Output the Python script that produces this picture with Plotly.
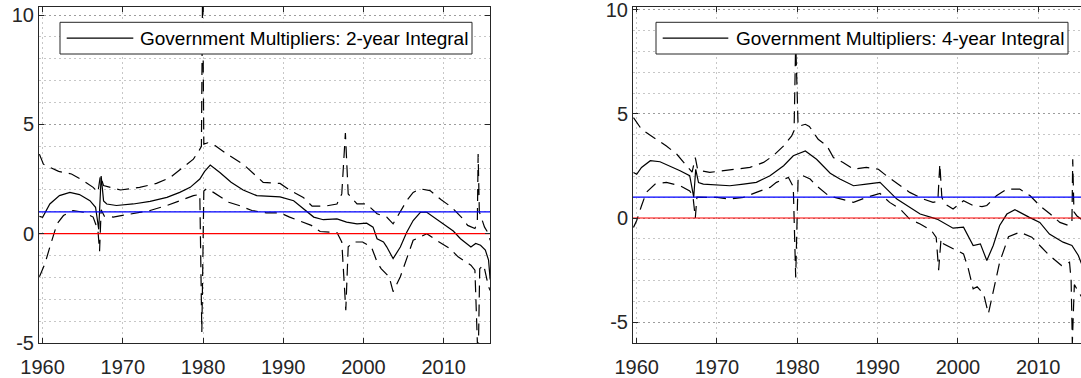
import plotly.graph_objects as go

# ---------------- data ----------------
# Left panel: Government Multipliers, 2-year integral
yrs_mid2 = [1959.6, 1960.0, 1960.9, 1962.1, 1963.4, 1964.6, 1965.9, 1966.6, 1967.0, 1967.3, 1967.6,
            1968.0, 1969.2, 1971.3, 1973.4, 1975.5, 1977.1, 1978.4, 1979.6, 1980.2, 1980.9, 1982.1,
            1983.5, 1985.0, 1986.7, 1989.6, 1991.3, 1992.5, 1993.8, 1995.0, 1996.7, 1997.9, 1999.2,
            2000.4, 2001.2, 2001.7, 2002.5, 2002.9, 2003.7, 2004.6, 2005.4, 2006.2, 2007.1, 2007.9,
            2009.6, 2011.2, 2012.1, 2013.4, 2014.0, 2014.6, 2015.2, 2015.6, 2015.8]
mid2 = [0.79, 0.75, 1.36, 1.74, 1.89, 1.79, 1.51, 1.21, 0.2, 2.64, 1.5,
        1.36, 1.29, 1.36, 1.48, 1.66, 1.89, 2.12, 2.5, 2.85, 3.14, 2.8,
        2.35, 2.0, 1.74, 1.68, 1.51, 1.14, 0.76, 0.64, 0.68, 0.53, 0.45,
        0.48, 0.3, -0.23, -0.38, -0.6, -1.14, -0.61, 0.07, 0.6, 0.98, 0.98,
        0.55, 0.12, -0.23, -0.61, -0.45, -0.53, -0.75, -1.21, -2.1]

yrs_up2 = [1959.6, 1960.1, 1962.0, 1963.6, 1965.1, 1966.3, 1966.9, 1967.2, 1967.6, 1969.7, 1972.1,
           1974.2, 1975.9, 1977.5, 1978.8, 1979.5, 1979.8, 1979.95, 1980.1, 1980.6, 1981.3, 1983.0,
           1985.0, 1987.5, 1989.6, 1990.9, 1992.5, 1993.6, 1995.2, 1996.7, 1997.3, 1997.75, 1998.1,
           1999.2, 2000.4, 2001.7, 2002.9, 2003.7, 2004.6, 2005.4, 2006.2, 2007.1, 2008.3, 2009.7,
           2011.0, 2012.2, 2013.0, 2013.9, 2014.2, 2014.3, 2014.45, 2015.1, 2015.6, 2015.8]
up2 = [3.64, 3.18, 2.85, 2.73, 2.42, 2.12, 1.9, 2.65, 2.2, 2.0, 2.12,
       2.3, 2.57, 3.03, 3.41, 3.8, 4.0, 11.5, 4.1, 4.16, 4.09, 3.64,
       3.18, 2.35, 2.3, 1.97, 1.66, 1.26, 1.26, 1.36, 1.82, 4.6, 1.82,
       1.36, 1.36, 0.91, 0.76, 0.45, 0.98, 1.51, 1.89, 2.05, 1.97, 1.55,
       1.21, 0.76, 0.38, 0.24, 0.5, 3.64, 1.0, 0.3, 0.0, -0.3]

yrs_lo2 = [1959.6, 1960.3, 1960.9, 1961.8, 1962.6, 1963.8, 1965.1, 1966.3, 1966.9, 1967.1, 1967.3,
           1967.7, 1968.8, 1971.3, 1973.4, 1975.5, 1977.1, 1978.8, 1979.6, 1979.85, 1980.1, 1980.4,
           1981.3, 1983.2, 1984.5, 1986.1, 1987.9, 1989.6, 1990.8, 1993.5, 1994.6, 1996.7, 1997.3,
           1997.8, 1998.1, 1998.8, 1999.9, 2001.0, 2001.7, 2002.2, 2003.2, 2003.7, 2004.6, 2005.4,
           2006.2, 2007.9, 2009.1, 2010.8, 2011.8, 2013.4, 2013.9, 2014.3, 2014.5, 2015.0, 2015.6,
           2015.8]
lo2 = [-1.97, -1.36, -0.61, 0.45, 0.83, 1.06, 0.98, 0.76, 0.15, -0.8, 1.1,
       0.8, 0.76, 0.91, 1.06, 1.29, 1.51, 1.74, 1.8, -4.5, 1.95, 2.05,
       1.89, 1.44, 1.29, 1.06, 0.95, 0.95, 0.76, 0.38, 0.1, 0.05, -0.38,
       -3.5, -0.6, -0.38, -0.38, -0.61, -1.29, -1.6, -1.97, -2.65, -1.97, -1.14,
       -0.3, 0.0, -0.3, -0.68, -1.06, -1.44, -1.67, -6.0, -1.6, -1.44, -2.43,
       -2.6]

# Right panel: Government Multipliers, 4-year integral
yrs_mid4 = [1959.6, 1960.0, 1960.6, 1961.7, 1962.9, 1964.1, 1965.4, 1966.6, 1967.1, 1967.35, 1967.7,
            1968.3, 1970.0, 1971.6, 1973.3, 1974.9, 1976.6, 1978.3, 1979.5, 1981.0, 1982.4, 1984.1,
            1985.3, 1987.0, 1988.6, 1990.3, 1992.4, 1995.3, 1997.4, 1998.6, 1999.4, 2000.7, 2001.9,
            2002.8, 2003.6, 2004.4, 2005.2, 2006.1, 2007.1, 2008.9, 2010.2, 2011.4, 2013.1, 2014.2,
            2015.0, 2015.5]
mid4 = [2.19, 2.1, 2.43, 2.75, 2.7, 2.51, 2.27, 2.03, 1.0, 2.34, 1.7,
        1.63, 1.58, 1.55, 1.63, 1.71, 2.03, 2.51, 2.99, 3.22, 2.82, 2.15,
        1.87, 1.55, 1.63, 1.71, 0.91, 0.19, -0.05, -0.29, -0.49, -0.44, -1.32,
        -1.24, -2.04, -1.32, -0.36, 0.19, 0.4, 0.03, -0.21, -0.77, -1.16, -1.32,
        -1.8, -2.3]

yrs_up4 = [1959.6, 1960.6, 1962.1, 1963.7, 1965.0, 1966.2, 1966.9, 1967.3, 1967.6, 1969.1, 1970.8,
           1972.5, 1974.1, 1975.8, 1977.0, 1978.3, 1979.3, 1979.6, 1979.8, 1980.1, 1980.3, 1981.0,
           1981.5, 1982.6, 1983.7, 1984.5, 1985.7, 1987.0, 1988.6, 1990.1, 1991.1, 1992.6, 1994.0,
           1995.7, 1996.9, 1997.5, 1997.75, 1998.0, 1998.3, 1999.4, 2000.7, 2001.9, 2003.0, 2003.6,
           2004.8, 2006.1, 2007.7, 2009.0, 2010.2, 2011.5, 2012.7, 2013.8, 2014.2, 2014.3, 2014.45,
           2014.8, 2015.5]
up4 = [4.82, 4.26, 3.86, 3.46, 3.06, 2.51, 2.2, 2.9, 2.3, 2.19, 2.27,
       2.34, 2.43, 2.67, 2.99, 3.46, 3.94, 4.2, 8.5, 4.4, 4.42, 4.5,
       4.4, 3.78, 3.46, 2.9, 2.67, 2.34, 2.43, 2.34, 2.03, 1.63, 1.23,
       0.91, 0.75, 0.8, 2.6, 1.0, 0.7, 0.43, 0.83, 0.6, 0.55, 0.6,
       1.07, 1.39, 1.39, 1.07, 0.59, 0.19, -0.21, -0.36, -0.2, 2.82, 0.3,
       0.11, -0.1]

yrs_lo4 = [1959.6, 1960.0, 1960.6, 1961.2, 1962.3, 1963.7, 1965.4, 1966.6, 1967.0, 1967.3, 1967.5,
           1968.1, 1970.0, 1971.6, 1973.3, 1974.9, 1976.6, 1977.4, 1978.9, 1979.5, 1979.8, 1980.1,
           1980.7, 1981.6, 1982.4, 1983.9, 1985.3, 1987.0, 1988.6, 1990.3, 1991.5, 1992.8, 1994.0,
           1995.3, 1996.7, 1997.3, 1997.6, 1997.9, 1998.2, 1999.4, 2000.7, 2001.3, 2001.9, 2002.4,
           2003.2, 2003.8, 2004.4, 2005.2, 2006.3, 2007.7, 2009.2, 2010.4, 2011.4, 2012.9, 2013.9,
           2014.1, 2014.25, 2014.5, 2015.5]
lo4 = [-0.45, -0.12, 0.59, 1.23, 1.63, 1.71, 1.55, 1.3, 1.07, 0.0, 1.0,
       0.99, 0.99, 0.91, 0.99, 1.23, 1.47, 1.71, 1.95, 1.5, -2.85, 1.9,
       2.03, 1.87, 1.55, 1.07, 0.91, 0.75, 0.99, 1.18, 0.75, 0.43, -0.05,
       -0.29, -0.6, -0.93, -2.5, -1.0, -1.24, -1.48, -1.72, -2.44, -3.4, -3.3,
       -3.64, -4.59, -3.56, -2.12, -0.9, -0.68, -0.92, -1.4, -1.8, -2.28, -2.12,
       -3.0, -6.0, -3.2, -3.85]

ref_one = 1
ref_zero = 0
x_ticks = [1960, 1970, 1980, 1990, 2000, 2010]
y_ticks = [-5, 0, 5, 10]
y_ticktext = ["-5", "0", "5", "10"]
legend_labels = ["Government Multipliers: 2-year Integral",
                 "Government Multipliers: 4-year Integral"]

# ---------------- figure ----------------
W, H = 1081, 378
FONT = "Liberation Sans, Arial, Helvetica, sans-serif"
AX = "#262626"
GRID = "rgba(38,38,38,0.26)"
DASH = "12px,7px"

fig = go.Figure()

panels = [
    (yrs_mid2, mid2, yrs_up2, up2, yrs_lo2, lo2, "x", "y"),
    (yrs_mid4, mid4, yrs_up4, up4, yrs_lo4, lo4, "x2", "y2"),
]
for ym, m, yu, u, yl, l, xa, ya in panels:
    fig.add_trace(go.Scatter(x=ym, y=m, mode="lines", line=dict(color="black", width=1.2),
                             xaxis=xa, yaxis=ya, showlegend=False, hoverinfo="skip"))
    fig.add_trace(go.Scatter(x=yu, y=u, mode="lines", line=dict(color="black", width=1.2, dash=DASH),
                             xaxis=xa, yaxis=ya, showlegend=False, hoverinfo="skip"))
    fig.add_trace(go.Scatter(x=yl, y=l, mode="lines", line=dict(color="black", width=1.2, dash=DASH),
                             xaxis=xa, yaxis=ya, showlegend=False, hoverinfo="skip"))
    xs = [min(ym + yu + yl) - 0.1, max(ym + yu + yl)]
    fig.add_trace(go.Scatter(x=xs, y=[ref_one, ref_one], mode="lines", line=dict(color="#0000ff", width=1.2),
                             xaxis=xa, yaxis=ya, showlegend=False, hoverinfo="skip"))
    fig.add_trace(go.Scatter(x=xs, y=[ref_zero, ref_zero], mode="lines", line=dict(color="#ff0000", width=1.2),
                             xaxis=xa, yaxis=ya, showlegend=False, hoverinfo="skip"))


def xaxis_style(domain, rng, mirror):
    return dict(domain=domain, range=rng, tickmode="array", tickvals=x_ticks,
                ticktext=[str(t) for t in x_ticks], ticks="inside", ticklen=5, tickcolor=AX,
                tickfont=dict(family=FONT, size=20, color=AX), showline=True, linecolor=AX,
                linewidth=1, mirror=mirror, showgrid=True, gridcolor=GRID, griddash="2px,3px",
                gridwidth=1, zeroline=False, ticklabelstandoff=6, automargin=False,
                ticklabeloverflow="allow")


def yaxis_style(domain, rng, mirror, anchor):
    return dict(domain=domain, range=rng, anchor=anchor, tickmode="array", tickvals=y_ticks,
                ticktext=y_ticktext, ticks="inside", ticklen=5, tickcolor=AX,
                tickfont=dict(family=FONT, size=20, color=AX), showline=True, linecolor=AX,
                linewidth=1, mirror=mirror, showgrid=True, gridcolor=GRID, griddash="2px,3px",
                gridwidth=1, zeroline=False, automargin=False, ticklabeloverflow="allow",
                minor=dict(dtick=1, tick0=0, showgrid=True, gridcolor=GRID, griddash="2px,3px",
                           gridwidth=1, ticks=""))


ydom = [(H - 343) / H, (H - 7) / H]
fig.update_layout(
    width=W, height=H, margin=dict(l=0, r=0, t=0, b=0),
    paper_bgcolor="white", plot_bgcolor="white", showlegend=False,
    xaxis=xaxis_style([39 / W, 490 / W], [1959.55, 2015.78], "ticks") | dict(anchor="y"),
    yaxis=yaxis_style(ydom, [-5, 10.37], "ticks", "x"),
    xaxis2=xaxis_style([633 / W, 1.0], [1959.54, 2015.33], "ticks") | dict(anchor="y2"),
    yaxis2=yaxis_style(ydom, [-6, 10.13], False, "x2"),
)

# legend boxes (drawn manually to match the original layout)
shapes = []
annotations = []
for (bx0, bx1, lx0, lx1, tx), label in zip(
        [(60, 472, 66.7, 133.3, 138), (656, 1068, 662.7, 728.3, 734)], legend_labels):
    y0p, y1p = 1 - 54 / H, 1 - 22.3 / H
    shapes.append(dict(type="rect", xref="paper", yref="paper", x0=bx0 / W, x1=bx1 / W,
                       y0=y0p, y1=y1p, fillcolor="white", line=dict(color=AX, width=1),
                       layer="above"))
    ymid = 1 - 38.2 / H
    shapes.append(dict(type="line", xref="paper", yref="paper", x0=lx0 / W, x1=lx1 / W,
                       y0=ymid, y1=ymid, line=dict(color="black", width=1.2), layer="above"))
    annotations.append(dict(xref="paper", yref="paper", x=tx / W, y=ymid, text=label,
                            showarrow=False, xanchor="left", yanchor="middle",
                            font=dict(family=FONT, size=19, color="black")))
fig.update_layout(shapes=shapes, annotations=annotations)

fig.write_html("out.html", config={"displayModeBar": False},
               post_script="document.body.style.margin='0';document.body.style.overflow='hidden';")
